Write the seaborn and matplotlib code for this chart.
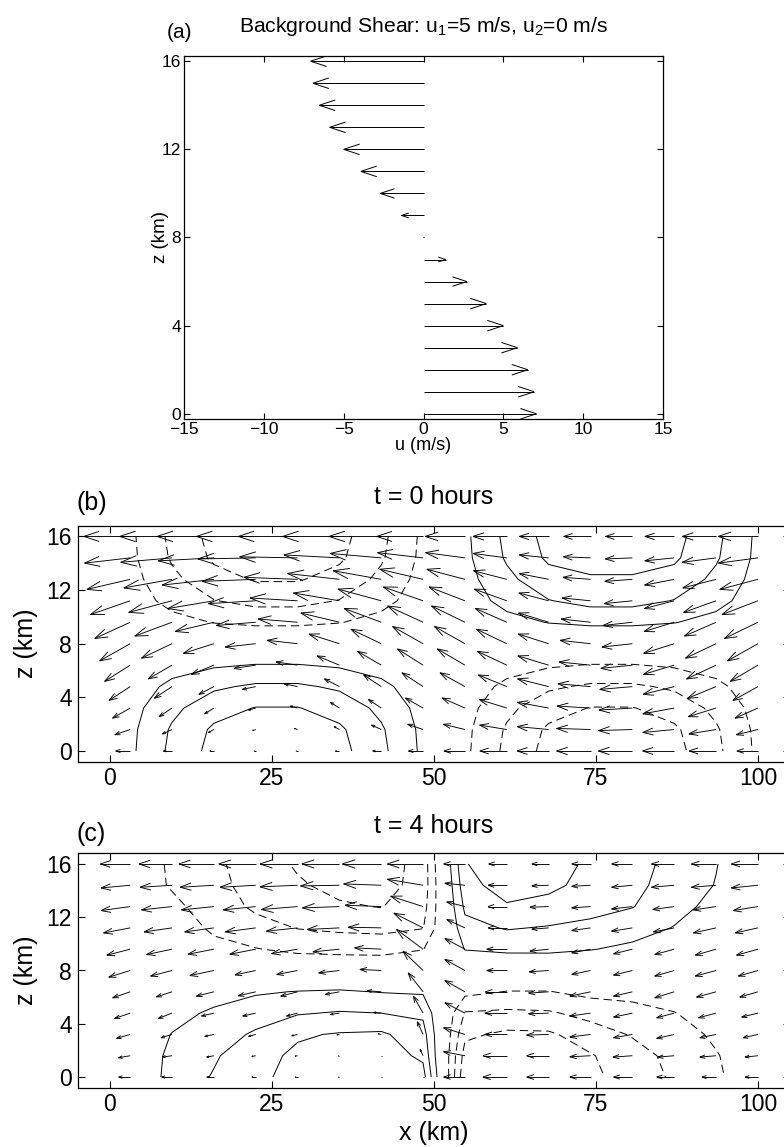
import numpy as np
import matplotlib
matplotlib.use("Agg")
import matplotlib.pyplot as plt
import seaborn as sns
from matplotlib.collections import LineCollection

# ---------------- data ----------------
# panel (a): background wind profile
Z_A = [0, 1, 2, 3, 4, 5, 6, 7, 8, 9, 10, 11, 12, 13, 14, 15, 16]
U_A = [7.07, 6.93, 6.53, 5.88, 5.00, 3.93, 2.71, 1.38, 0.00, -1.38, -2.71,
       -3.93, -5.00, -5.88, -6.53, -6.93, -7.07]

# panels (b),(c): model grid (km)
X_GRID = [3.13, 9.58, 16.04, 22.50, 28.96, 35.42, 41.88, 48.33, 54.79, 61.25,
          67.71, 74.17, 80.63, 87.08, 93.54, 100.0]
Z_GRID = [0.0, 1.6, 3.2, 4.8, 6.4, 8.0, 9.6, 11.2, 12.8, 14.4, 16.0]

# t = 0 hours : horizontal / vertical arrow components, contoured field
U_B = [
    [-2.25, -1.33, -0.63, -0.25, -0.25, -0.63, -1.33, -2.25, -3.25, -4.17, -4.87, -5.25, -5.25, -4.87, -4.17, -3.25],
    [-2.37, -1.50, -0.83, -0.47, -0.47, -0.83, -1.50, -2.37, -3.32, -4.19, -4.86, -5.23, -5.23, -4.86, -4.19, -3.32],
    [-2.72, -1.98, -1.41, -1.10, -1.10, -1.41, -1.98, -2.72, -3.52, -4.27, -4.84, -5.15, -5.15, -4.84, -4.27, -3.52],
    [-3.26, -2.72, -2.31, -2.08, -2.08, -2.31, -2.72, -3.26, -3.85, -4.39, -4.80, -5.03, -5.03, -4.80, -4.39, -3.85],
    [-3.94, -3.66, -3.44, -3.32, -3.32, -3.44, -3.66, -3.94, -4.25, -4.54, -4.75, -4.87, -4.87, -4.75, -4.54, -4.25],
    [-4.70, -4.70, -4.70, -4.70, -4.70, -4.70, -4.70, -4.70, -4.70, -4.70, -4.70, -4.70, -4.70, -4.70, -4.70, -4.70],
    [-5.46, -5.74, -5.96, -6.08, -6.08, -5.96, -5.74, -5.46, -5.15, -4.86, -4.65, -4.53, -4.53, -4.65, -4.86, -5.15],
    [-6.14, -6.68, -7.09, -7.32, -7.32, -7.09, -6.68, -6.14, -5.55, -5.01, -4.60, -4.38, -4.38, -4.60, -5.01, -5.55],
    [-6.68, -7.42, -7.99, -8.30, -8.30, -7.99, -7.42, -6.68, -5.88, -5.13, -4.56, -4.25, -4.25, -4.56, -5.13, -5.88],
    [-7.03, -7.90, -8.57, -8.93, -8.93, -8.57, -7.90, -7.03, -6.08, -5.21, -4.54, -4.17, -4.17, -4.54, -5.21, -6.08],
    [-7.15, -8.07, -8.77, -9.15, -9.15, -8.77, -8.07, -7.15, -6.15, -5.23, -4.53, -4.15, -4.15, -4.53, -5.23, -6.15],
]
W_B = [
    [0.00, 0.00, 0.00, 0.00, 0.00, 0.00, 0.00, 0.00, 0.00, 0.00, 0.00, 0.00, 0.00, 0.00, 0.00, 0.00],
    [-0.39, -0.33, -0.22, -0.08, 0.08, 0.22, 0.33, 0.39, 0.39, 0.33, 0.22, 0.08, -0.08, -0.22, -0.33, -0.39],
    [-0.75, -0.64, -0.43, -0.15, 0.15, 0.43, 0.64, 0.75, 0.75, 0.64, 0.43, 0.15, -0.15, -0.43, -0.64, -0.75],
    [-1.03, -0.87, -0.58, -0.21, 0.21, 0.58, 0.87, 1.03, 1.03, 0.87, 0.58, 0.21, -0.21, -0.58, -0.87, -1.03],
    [-1.21, -1.03, -0.69, -0.24, 0.24, 0.69, 1.03, 1.21, 1.21, 1.03, 0.69, 0.24, -0.24, -0.69, -1.03, -1.21],
    [-1.28, -1.08, -0.72, -0.25, 0.25, 0.72, 1.08, 1.28, 1.28, 1.08, 0.72, 0.25, -0.25, -0.72, -1.08, -1.28],
    [-1.21, -1.03, -0.69, -0.24, 0.24, 0.69, 1.03, 1.21, 1.21, 1.03, 0.69, 0.24, -0.24, -0.69, -1.03, -1.21],
    [-1.03, -0.87, -0.58, -0.21, 0.21, 0.58, 0.87, 1.03, 1.03, 0.87, 0.58, 0.21, -0.21, -0.58, -0.87, -1.03],
    [-0.75, -0.64, -0.43, -0.15, 0.15, 0.43, 0.64, 0.75, 0.75, 0.64, 0.43, 0.15, -0.15, -0.43, -0.64, -0.75],
    [-0.39, -0.33, -0.22, -0.08, 0.08, 0.22, 0.33, 0.39, 0.39, 0.33, 0.22, 0.08, -0.08, -0.22, -0.33, -0.39],
    [0.00, 0.00, 0.00, 0.00, 0.00, 0.00, 0.00, 0.00, 0.00, 0.00, 0.00, 0.00, 0.00, 0.00, 0.00, 0.00],
]
F_B = [
    [0.20, 0.56, 0.83, 0.98, 0.98, 0.83, 0.56, 0.20, -0.20, -0.56, -0.83, -0.98, -0.98, -0.83, -0.56, -0.20],
    [0.19, 0.53, 0.79, 0.93, 0.93, 0.79, 0.53, 0.19, -0.19, -0.53, -0.79, -0.93, -0.93, -0.79, -0.53, -0.19],
    [0.16, 0.44, 0.65, 0.76, 0.76, 0.65, 0.44, 0.16, -0.16, -0.44, -0.65, -0.76, -0.76, -0.65, -0.44, -0.16],
    [0.11, 0.31, 0.46, 0.54, 0.54, 0.46, 0.31, 0.11, -0.11, -0.31, -0.46, -0.54, -0.54, -0.46, -0.31, -0.11],
    [0.05, 0.15, 0.22, 0.26, 0.26, 0.22, 0.15, 0.05, -0.05, -0.15, -0.22, -0.26, -0.26, -0.22, -0.15, -0.05],
    [0.00, 0.00, 0.00, 0.00, 0.00, 0.00, 0.00, 0.00, 0.00, 0.00, 0.00, 0.00, 0.00, 0.00, 0.00, 0.00],
    [-0.06, -0.17, -0.26, -0.30, -0.30, -0.26, -0.17, -0.06, 0.06, 0.17, 0.26, 0.30, 0.30, 0.26, 0.17, 0.06],
    [-0.12, -0.33, -0.49, -0.58, -0.58, -0.49, -0.33, -0.12, 0.12, 0.33, 0.49, 0.58, 0.58, 0.49, 0.33, 0.12],
    [-0.16, -0.44, -0.66, -0.77, -0.77, -0.66, -0.44, -0.16, 0.16, 0.44, 0.66, 0.70, 0.70, 0.66, 0.44, 0.16],
    [-0.19, -0.53, -0.79, -0.93, -0.93, -0.79, -0.53, -0.19, 0.19, 0.53, 0.79, 0.93, 0.93, 0.79, 0.53, 0.19],
    [-0.20, -0.56, -0.83, -0.98, -0.98, -0.83, -0.56, -0.20, 0.20, 0.56, 0.83, 0.98, 0.98, 0.83, 0.56, 0.20],
]

# t = 4 hours
U_C = [
    [-1.8, -1.6, -1.1, -0.6, -0.4, -0.15, -0.1, -0.1, -3.3, -3.7, -3.4, -3.2, -2.9, -2.7, -2.2, -2.0],
    [-1.8, -1.5, -1.1, -0.6, -0.4, -0.2, -0.1, -0.45, -3.3, -3.7, -3.4, -3.2, -3.0, -2.5, -2.5, -2.0],
    [-2.1, -1.7, -1.4, -1.1, -0.9, -0.4, -0.5, -0.9, -3.3, -3.4, -3.4, -3.2, -2.9, -2.7, -2.5, -2.3],
    [-2.4, -2.1, -1.9, -2.0, -1.7, -1.4, -1.2, -1.5, -3.1, -3.4, -3.1, -3.2, -2.9, -2.7, -2.7, -2.5],
    [-2.7, -2.4, -2.7, -2.7, -2.6, -2.2, -2.2, -2.3, -3.1, -3.3, -3.1, -3.2, -2.9, -3.0, -3.0, -2.8],
    [-3.3, -3.3, -3.7, -3.2, -3.2, -3.2, -3.3, -3.1, -3.1, -3.1, -3.0, -2.9, -2.9, -3.0, -3.2, -3.0],
    [-3.6, -3.9, -4.0, -4.0, -4.0, -4.1, -4.1, -4.1, -3.1, -3.1, -2.9, -2.9, -2.9, -3.0, -3.2, -3.3],
    [-4.1, -4.3, -4.5, -4.7, -4.8, -5.0, -5.1, -4.5, -2.8, -2.9, -2.6, -2.9, -3.2, -3.2, -3.5, -3.5],
    [-4.5, -4.7, -5.0, -5.0, -5.6, -5.7, -5.6, -5.0, -2.8, -2.9, -2.9, -2.9, -3.2, -3.3, -3.5, -3.8],
    [-4.5, -4.9, -5.2, -5.5, -5.8, -6.0, -5.8, -5.5, -3.1, -2.9, -2.6, -2.9, -3.2, -3.5, -3.8, -4.1],
    [-4.6, -5.1, -5.4, -5.7, -5.8, -5.8, -6.0, -5.5, -3.3, -2.8, -2.6, -2.9, -3.2, -3.5, -3.8, -4.1],
]
W_C = [
    [0.0, 0.0, 0.0, 0.0, 0.0, 0.0, 0.0, 0.0, 0.0, 0.0, 0.0, 0.0, 0.0, 0.0, 0.0, 0.0],
    [-0.15, -0.1, -0.1, -0.05, -0.03, 0.0, 0.0, 0.47, 0.3, 0.0, 0.0, -0.08, -0.1, -0.1, -0.1, -0.1],
    [-0.3, -0.25, -0.15, -0.15, -0.1, -0.03, 0.05, 0.95, 0.5, 0.0, -0.05, -0.2, -0.25, -0.3, -0.25, -0.25],
    [-0.4, -0.4, -0.22, -0.22, -0.22, -0.1, 0.05, 1.28, 0.78, 0.0, -0.05, -0.22, -0.3, -0.35, -0.35, -0.3],
    [-0.45, -0.38, -0.33, -0.3, -0.33, -0.2, 0.08, 1.42, 0.85, 0.0, -0.1, -0.33, -0.33, -0.45, -0.4, -0.4],
    [-0.5, -0.42, -0.38, -0.33, -0.3, -0.18, 0.08, 1.45, 0.83, 0.0, -0.1, -0.3, -0.35, -0.42, -0.42, -0.42],
    [-0.45, -0.4, -0.38, -0.38, -0.33, -0.2, 0.1, 1.48, 0.8, 0.0, -0.15, -0.28, -0.35, -0.4, -0.45, -0.45],
    [-0.38, -0.3, -0.3, -0.3, -0.25, -0.12, 0.05, 1.1, 0.63, 0.0, -0.1, -0.2, -0.25, -0.3, -0.38, -0.38],
    [-0.3, -0.25, -0.25, -0.25, -0.22, -0.1, 0.1, 0.78, 0.35, 0.0, -0.05, -0.1, -0.18, -0.22, -0.25, -0.3],
    [-0.2, -0.15, -0.15, -0.15, -0.12, -0.05, 0.1, 0.45, 0.15, 0.0, -0.05, -0.08, -0.15, -0.15, -0.15, -0.2],
    [0.0, 0.0, 0.0, 0.0, 0.0, 0.0, 0.0, 0.0, 0.0, 0.0, 0.0, 0.0, 0.0, 0.0, 0.0, 0.0],
]
F_C = [
    [0.00, 0.34, 0.52, 0.68, 0.85, 0.88, 0.90, 0.85, -0.95, -0.95, -0.90, -0.80, -0.65, -0.46, -0.30, -0.05],
    [0.00, 0.32, 0.47, 0.66, 0.80, 0.86, 0.88, 0.70, -0.85, -0.93, -0.88, -0.77, -0.60, -0.43, -0.27, -0.05],
    [0.00, 0.26, 0.40, 0.53, 0.72, 0.77, 0.79, 0.60, -0.70, -0.80, -0.79, -0.62, -0.48, -0.38, -0.20, -0.04],
    [0.00, 0.15, 0.30, 0.40, 0.48, 0.52, 0.50, 0.45, -0.52, -0.55, -0.53, -0.42, -0.36, -0.26, -0.12, -0.03],
    [0.00, 0.05, 0.12, 0.22, 0.26, 0.28, 0.24, 0.22, -0.18, -0.26, -0.26, -0.18, -0.15, -0.10, -0.05, -0.02],
    [-0.02, -0.05, 0.00, -0.05, -0.05, -0.05, -0.05, 0.00, 0.00, 0.02, 0.03, 0.02, 0.00, 0.00, 0.00, 0.00],
    [-0.05, -0.10, -0.20, -0.24, -0.30, -0.32, -0.33, -0.26, 0.26, 0.30, 0.30, 0.26, 0.20, 0.10, 0.05, 0.02],
    [-0.08, -0.15, -0.28, -0.40, -0.51, -0.55, -0.57, -0.51, 0.42, 0.52, 0.48, 0.44, 0.35, 0.24, 0.12, 0.03],
    [-0.10, -0.20, -0.35, -0.55, -0.65, -0.72, -0.76, -0.60, 0.55, 0.72, 0.68, 0.58, 0.51, 0.33, 0.18, 0.04],
    [-0.12, -0.27, -0.42, -0.60, -0.72, -0.82, -0.85, -0.65, 0.65, 0.88, 0.80, 0.68, 0.57, 0.39, 0.24, 0.05],
    [-0.12, -0.28, -0.45, -0.62, -0.78, -0.85, -0.88, -0.65, 0.73, 0.98, 0.85, 0.71, 0.60, 0.42, 0.26, 0.05],
]
CONTOUR_LEVELS = [-0.75, -0.5, -0.25, 0.25, 0.5, 0.75]

XTICKS_A = [-15, -10, -5, 0, 5, 10, 15]
YTICKS = [0, 4, 8, 12, 16]
XTICKS_BC = [0, 25, 50, 75, 100]
TITLE_A = "Background Shear: u$_1$=5 m/s, u$_2$=0 m/s"
TITLES_BC = ["t = 0 hours", "t = 4 hours"]

# ---------------- style ----------------
sns.set_theme(style="white")
plt.rcParams.update({
    "font.family": ["Liberation Sans", "DejaVu Sans"],
    "mathtext.fontset": "custom",
    "mathtext.rm": "Liberation Sans",
    "mathtext.it": "Liberation Sans",
    "mathtext.default": "regular",
    "axes.edgecolor": "black",
    "axes.linewidth": 0.9,
    "xtick.color": "black",
    "ytick.color": "black",
    "text.color": "black",
    "axes.labelcolor": "black",
    "xtick.direction": "in",
    "ytick.direction": "in",
    "xtick.top": True,
    "ytick.right": True,
    "xtick.bottom": True,
    "ytick.left": True,
    "xtick.major.width": 0.8,
    "ytick.major.width": 0.8,
    "lines.scale_dashes": False,
})

W_PX, H_PX = 784, 1147
fig = plt.figure(figsize=(W_PX / 100, H_PX / 100), dpi=100)


def axes_px(left, top, right, bottom):
    return fig.add_axes([left / W_PX, 1 - bottom / H_PX, (right - left) / W_PX, (bottom - top) / H_PX])


def ftext(x, y, s, **kw):
    return fig.text(x / W_PX, 1 - y / H_PX, s, **kw)


def matlab_quiver(ax, tx, tz, u, w, alpha=0.33, beta=0.33, cap_px=16.0, lw=0.6):
    tails = np.column_stack([np.ravel(tx), np.ravel(tz)]).astype(float)
    tips = tails + np.column_stack([np.ravel(u), np.ravel(w)])
    T = ax.transData
    inv = T.inverted()
    tp = T.transform(tails)
    hp = T.transform(tips)
    segs = []
    for i in range(len(tails)):
        d = hp[i] - tp[i]
        L = np.hypot(d[0], d[1])
        if L < 0.8:
            segs.append([inv.transform(tp[i] - [0.5, 0]), inv.transform(tp[i] + [0.5, 0])])
            continue
        e = d / L
        p = np.array([-e[1], e[0]])
        hl = min(alpha * L, cap_px)
        b1 = hp[i] - hl * e + beta * hl * p
        b2 = hp[i] - hl * e - beta * hl * p
        segs.append([tails[i], tips[i]])
        segs.append([inv.transform(b1), tips[i]])
        segs.append([inv.transform(b2), tips[i]])
    ax.add_collection(LineCollection(segs, colors="black", linewidths=lw, capstyle="butt"))


# ---------------- panel (a) ----------------
axa = axes_px(184, 55.7, 663, 419.3)
axa.set_xlim(-15, 15)
axa.set_ylim(-0.25, 16.25)
axa.set_xticks(XTICKS_A)
axa.set_yticks(YTICKS)
axa.tick_params(labelsize=12.5, length=4, pad=2)
axa.set_xlabel("u (m/s)", fontsize=13)
axa.set_ylabel("z (km)", fontsize=13.5)
axa.xaxis.set_label_coords(0.5, -0.073)
axa.yaxis.set_label_coords(-0.05, 0.5)
axa.xaxis.label.set_va("center")
axa.yaxis.label.set_va("center")
matlab_quiver(axa, np.zeros(len(Z_A)), Z_A, U_A, np.zeros(len(Z_A)), cap_px=16.0, lw=0.7)
ftext(423.5, 32, TITLE_A, ha="center", va="baseline", fontsize=15.2)
ftext(167, 38, "(a)", ha="left", va="baseline", fontsize=15)

# ---------------- panels (b), (c) ----------------
XG, ZG = np.meshgrid(X_GRID, Z_GRID)
panels = [
    (axes_px(77.5, 525.7, 790.3, 761.7), U_B, W_B, F_B, TITLES_BC[0], "(b)", 497, 503),
    (axes_px(77.5, 853.3, 790.3, 1087.7), U_C, W_C, F_C, TITLES_BC[1], "(c)", 826, 834),
]
for i, (ax, U, Wv, F, title, tag, ty, tagy) in enumerate(panels):
    ax.set_xlim(-5, 105)
    ax.set_ylim(-0.8, 16.8)
    ax.set_xticks(XTICKS_BC)
    ax.set_yticks(YTICKS)
    ax.tick_params(labelsize=16.5, length=5, pad=4)
    ax.set_ylabel("z (km)", fontsize=18)
    ax.yaxis.set_label_coords(-0.072, 0.5)
    ax.yaxis.label.set_va("center")
    ax.contour(XG, ZG, np.array(F), levels=CONTOUR_LEVELS, colors="black",
               linewidths=0.7,
               linestyles=[(0, (6, 3.5))] * 3 + ["solid"] * 3)
    matlab_quiver(ax, XG, ZG, np.array(U), np.array(Wv), cap_px=16.0, lw=0.65)
    ftext(433.7, ty, title, ha="center", va="center", fontsize=18)
    ftext(77, tagy, tag, ha="left", va="center", fontsize=18)
    if i == 1:
        ax.set_xlabel("x (km)", fontsize=18)
        ax.xaxis.set_label_coords(0.5, -0.195)
        ax.xaxis.label.set_va("center")

fig.savefig("out.png", dpi=100)
